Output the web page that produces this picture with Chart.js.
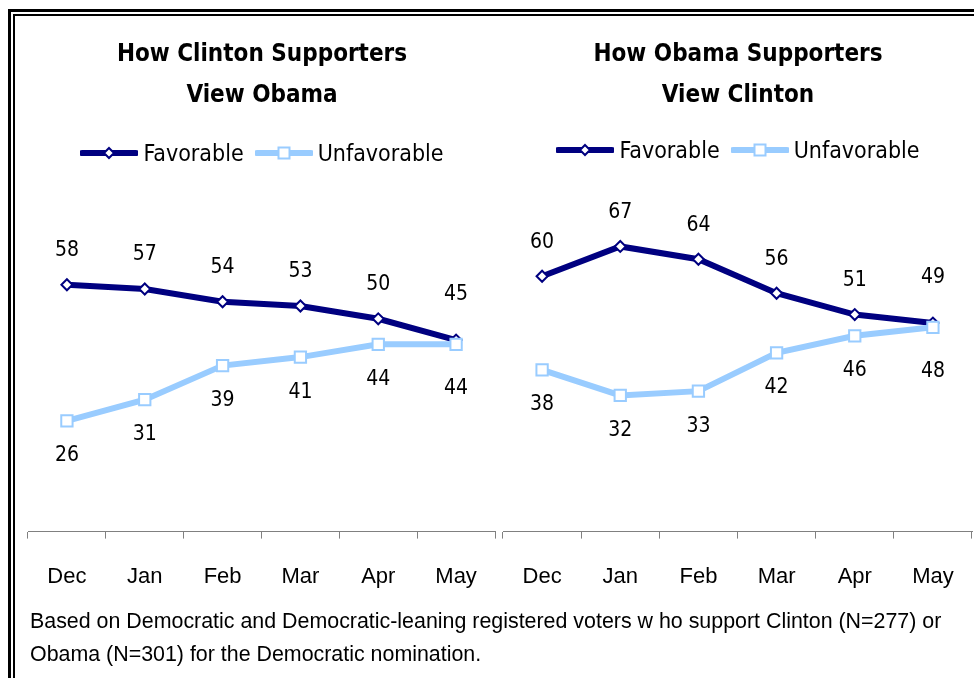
<!DOCTYPE html>
<html>
<head>
<meta charset="utf-8">
<script src="https://cdn.jsdelivr.net/npm/chart.js@4.4.1/dist/chart.umd.min.js"></script>
<style>
  html, body { margin:0; padding:0; background:#fff; }
  body { width:974px; height:678px; position:relative; overflow:hidden; }
  canvas { position:absolute; top:0; }
  .frame1 { position:absolute; left:8px; top:9px; width:1200px; height:1000px; border-left:3px solid #000; border-top:3px solid #000; }
  .frame2 { position:absolute; left:13px; top:14px; width:1200px; height:1000px; border-left:2px solid #000; border-top:2px solid #000; }
  .title { position:absolute; top:33px; text-align:center; font-family:"DejaVu Sans Condensed","DejaVu Sans",sans-serif; font-weight:bold; font-size:24px; line-height:41px; color:#000; z-index:2; }
  .legend { position:absolute; display:flex; justify-content:center; align-items:center; font-family:"DejaVu Sans Condensed","DejaVu Sans",sans-serif; font-size:23px; color:#000; z-index:2; height:26px; }
  .legend svg { display:block; }
  .legend .txt { margin-left:5px; margin-right:11px; }
  .note { position:absolute; left:30px; top:605px; font-family:"Liberation Sans",Arial,sans-serif; font-size:21.4px; line-height:33px; color:#000; white-space:nowrap; }
</style>
</head>
<body>
<div class="frame1"></div>
<div class="frame2"></div>

<div class="title" style="left:12px;width:500px;">How Clinton Supporters<br>View Obama</div>
<div class="title" style="left:488px;width:500px;">How Obama Supporters<br>View Clinton</div>

<div class="legend" style="left:12px;width:500px;top:140px;">
  <svg width="58" height="16"><line x1="2" y1="8" x2="56" y2="8" stroke="#000080" stroke-width="6" stroke-linecap="round"/><polygon points="29,3 34,8 29,13 24,8" fill="#fff" stroke="#000080" stroke-width="2"/></svg>
  <span class="txt">Favorable</span>
  <svg width="58" height="16"><line x1="2" y1="8" x2="56" y2="8" stroke="#99CCFF" stroke-width="6" stroke-linecap="round"/><rect x="23.5" y="2.5" width="11" height="11" fill="#fff" stroke="#99CCFF" stroke-width="2"/></svg>
  <span class="txt" style="margin-right:0">Unfavorable</span>
</div>
<div class="legend" style="left:488px;width:500px;top:137px;">
  <svg width="58" height="16"><line x1="2" y1="8" x2="56" y2="8" stroke="#000080" stroke-width="6" stroke-linecap="round"/><polygon points="29,3 34,8 29,13 24,8" fill="#fff" stroke="#000080" stroke-width="2"/></svg>
  <span class="txt">Favorable</span>
  <svg width="58" height="16"><line x1="2" y1="8" x2="56" y2="8" stroke="#99CCFF" stroke-width="6" stroke-linecap="round"/><rect x="23.5" y="2.5" width="11" height="11" fill="#fff" stroke="#99CCFF" stroke-width="2"/></svg>
  <span class="txt" style="margin-right:0">Unfavorable</span>
</div>

<canvas id="left" width="505" height="615" style="left:0px;"></canvas>
<canvas id="right" width="489" height="615" style="left:493px;"></canvas>

<div class="note">Based on Democratic and Democratic-leaning registered voters w ho support Clinton (N=277) or<br>Obama (N=301) for the Democratic nomination.</div>

<script>
// ---- data ----
const months = ['Dec', 'Jan', 'Feb', 'Mar', 'Apr', 'May'];
const clintonSupViewObamaFav = [58, 57, 54, 53, 50, 45];
const clintonSupViewObamaUnfav = [26, 31, 39, 41, 44, 44];
const obamaSupViewClintonFav = [60, 67, 64, 56, 51, 49];
const obamaSupViewClintonUnfav = [38, 32, 33, 42, 46, 48];
const seriesNames = ['Favorable', 'Unfavorable'];

const NAVY = '#000080';
const LIGHT = '#99CCFF';

const valueLabels = {
  id: 'valueLabels',
  afterDatasetsDraw(chart) {
    const ctx = chart.ctx;
    chart.data.datasets.forEach((ds, i) => {
      const meta = chart.getDatasetMeta(i);
      const above = ds.labelSide === 'above';
      meta.data.forEach((pt, j) => {
        const last = j === meta.data.length - 1;
        let off = above ? -34 : 35;
        if (last) off += above ? -12 : 9;
        ctx.save();
        ctx.font = '21px "DejaVu Sans Condensed", "DejaVu Sans", sans-serif';
        ctx.fillStyle = '#000';
        ctx.textAlign = 'center';
        ctx.textBaseline = 'middle';
        ctx.fillText(String(ds.data[j]), pt.x, pt.y + off);
        ctx.restore();
      });
    });
  }
};

function makeChart(id, fav, unfav, padL, padR) {
  return new Chart(document.getElementById(id), {
    type: 'line',
    data: {
      labels: months,
      datasets: [
        {
          label: seriesNames[0], data: fav, order: 1, labelSide: 'above',
          borderColor: NAVY, borderWidth: 6, tension: 0,
          pointStyle: 'rectRot', pointRadius: 5.5, pointBorderWidth: 2,
          pointBackgroundColor: '#fff', pointBorderColor: NAVY
        },
        {
          label: seriesNames[1], data: unfav, order: 0, labelSide: 'below',
          borderColor: LIGHT, borderWidth: 6, tension: 0,
          pointStyle: 'rect', pointRadius: 8, pointBorderWidth: 2,
          pointBackgroundColor: '#fff', pointBorderColor: LIGHT
        }
      ]
    },
    options: {
      responsive: false,
      animation: false,
      devicePixelRatio: 1,
      layout: { padding: { left: padL, right: padR, top: 106, bottom: 0 } },
      plugins: { legend: { display: false }, tooltip: { enabled: false }, title: { display: false } },
      scales: {
        y: { display: false, min: 0, max: 100 },
        x: {
          type: 'category',
          offset: true,
          grid: { offset: true, drawOnChartArea: false, drawTicks: true, tickLength: 7, color: '#808080', lineWidth: 1 },
          border: { display: true, color: '#808080', width: 1 },
          ticks: { color: '#000', font: { family: 'Liberation Sans', size: 22 }, padding: 25, autoSkip: false, maxRotation: 0 }
        }
      }
    },
    plugins: [valueLabels]
  });
}

makeChart('left', clintonSupViewObamaFav, clintonSupViewObamaUnfav, 28, 0);
makeChart('right', obamaSupViewClintonFav, obamaSupViewClintonUnfav, 0, 0);
</script>
</body>
</html>
